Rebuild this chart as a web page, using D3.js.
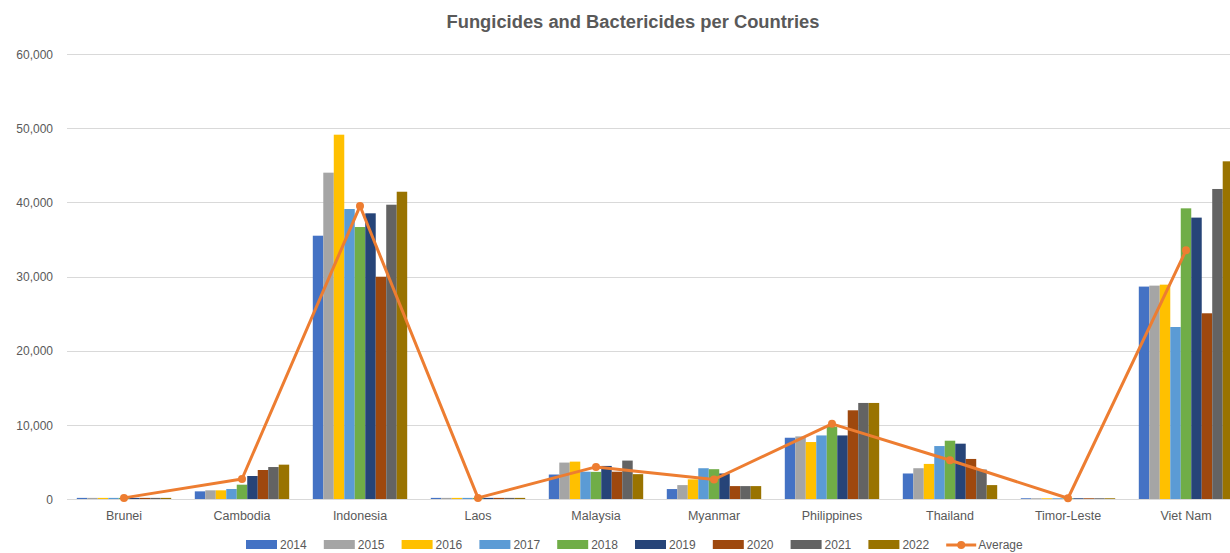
<!DOCTYPE html>
<html>
<head>
<meta charset="utf-8">
<script src="https://cdn.jsdelivr.net/npm/d3@7"></script>
<style>
  html, body { margin: 0; padding: 0; background: #fff; }
  svg { display: block; }
  text { font-family: "Liberation Sans", Arial, sans-serif; fill: #595959; }
</style>
</head>
<body>
<svg id="chart" width="1230" height="553"></svg>
<script>
// Fungicide and bactericide use by country, 2014–2022
const countries = ["Brunei", "Cambodia", "Indonesia", "Laos", "Malaysia", "Myanmar", "Philippines", "Thailand", "Timor-Leste", "Viet Nam"];
const years = ["2014", "2015", "2016", "2017", "2018", "2019", "2020", "2021", "2022"];

const v2014 = [150, 1030, 35500, 150, 3300, 1340, 8260, 3440, 100, 28640];
const v2015 = [150, 1170, 44000, 150, 4910, 1875, 8440, 4150, 100, 28770];
const v2016 = [150, 1170, 49120, 150, 5040, 2650, 7680, 4730, 100, 28900];
const v2017 = [150, 1350, 39100, 150, 3680, 4150, 8570, 7140, 100, 23190];
const v2018 = [150, 1930, 36670, 150, 3660, 4020, 9750, 7860, 100, 39190];
const v2019 = [150, 3100, 38520, 150, 4460, 3440, 8570, 7460, 100, 37940];
const v2020 = [150, 3910, 29970, 150, 3680, 1740, 11960, 5400, 100, 25040];
const v2021 = [150, 4310, 39680, 150, 5180, 1740, 12950, 3970, 100, 41800];
const v2022 = [150, 4630, 41430, 150, 3350, 1740, 12950, 1875, 100, 45530];
const average = [150, 2700, 39500, 150, 4330, 2630, 10130, 5220, 100, 33530];

const yTicks = [0, 10000, 20000, 30000, 40000, 50000, 60000];
const yearColors = ["#4472C4", "#A5A5A5", "#FFC000", "#5B9BD5", "#70AD47", "#264478", "#9E480E", "#636363", "#997300"];
const averageColor = "#ED7D31";

const seriesValues = [v2014, v2015, v2016, v2017, v2018, v2019, v2020, v2021, v2022];

const svg = d3.select("#chart");
const plot = { left: 65, right: 1245, top: 54, bottom: 499 };

const x = d3.scaleBand().domain(countries).range([plot.left, plot.right]).paddingInner(0.2).paddingOuter(0.1);
const xi = d3.scaleBand().domain(years).range([0, x.bandwidth()]);
const y = d3.scaleLinear().domain([0, 60000]).range([plot.bottom, plot.top]);

// Title
svg.append("text")
  .attr("x", 633).attr("y", 28)
  .attr("text-anchor", "middle")
  .style("font-size", "18px").style("font-weight", "bold")
  .attr("textLength", 373).attr("lengthAdjust", "spacingAndGlyphs")
  .text("Fungicides and Bactericides per Countries");

// Horizontal gridlines
svg.append("g").selectAll("line").data(yTicks.filter(d => d > 0)).join("line")
  .attr("x1", 67).attr("x2", 1230)
  .attr("y1", d => Math.round(y(d)) + 0.5).attr("y2", d => Math.round(y(d)) + 0.5)
  .attr("stroke", "#d9d9d9").attr("stroke-width", 1);

// Y axis labels
const yAxis = d3.axisLeft(y).tickValues(yTicks).tickSize(0).tickPadding(0)
  .tickFormat(d3.format(","));
svg.append("g").attr("transform", "translate(53,0)").call(yAxis)
  .call(g => g.select(".domain").remove())
  .call(g => g.selectAll("text").style("font-size", "12px").attr("fill", "#595959")
    .style("font-family", "'Liberation Sans', Arial, sans-serif").attr("dy", "0.35em"));

// Bars
const groups = svg.append("g").selectAll("g").data(countries).join("g")
  .attr("transform", d => `translate(${x(d)},0)`);
groups.selectAll("rect")
  .data((c, ci) => years.map((yr, si) => ({ yr, si, v: seriesValues[si][ci] })))
  .join("rect")
  .attr("x", d => xi(d.yr))
  .attr("width", xi.bandwidth())
  .attr("y", d => y(d.v))
  .attr("height", d => y(0) - y(d.v))
  .attr("fill", d => yearColors[d.si]);

// X axis line and category labels
svg.append("line")
  .attr("x1", 67).attr("x2", 1230).attr("y1", plot.bottom + 0.5).attr("y2", plot.bottom + 0.5)
  .attr("stroke", "#d9d9d9");
const xAxis = d3.axisBottom(x).tickSize(0).tickPadding(12);
svg.append("g").attr("transform", `translate(0,${plot.bottom})`).call(xAxis)
  .call(g => g.select(".domain").remove())
  .call(g => g.selectAll("text").style("font-size", "12.5px").attr("fill", "#595959")
    .style("font-family", "'Liberation Sans', Arial, sans-serif"));

// Average line with markers
const line = d3.line().x((d, i) => x(countries[i]) + x.bandwidth() / 2).y(d => y(d));
svg.append("path").datum(average)
  .attr("d", line).attr("fill", "none")
  .attr("stroke", averageColor).attr("stroke-width", 3).attr("stroke-linejoin", "round");
svg.append("g").selectAll("circle").data(average).join("circle")
  .attr("cx", (d, i) => x(countries[i]) + x.bandwidth() / 2)
  .attr("cy", d => y(d)).attr("r", 4)
  .attr("fill", averageColor);

// Legend
const legend = svg.append("g");
const legendStart = 246, legendStep = 77.8, legendY = 545;
years.forEach((yr, i) => {
  const lx = legendStart + i * legendStep;
  legend.append("rect").attr("x", lx).attr("y", legendY - 5).attr("width", 31).attr("height", 9)
    .attr("fill", yearColors[i]);
  legend.append("text").attr("x", lx + 34).attr("y", legendY).attr("dy", "0.35em")
    .style("font-size", "12px").text(yr);
});
const ax = legendStart + years.length * legendStep;
legend.append("line").attr("x1", ax).attr("x2", ax + 30).attr("y1", legendY).attr("y2", legendY)
  .attr("stroke", averageColor).attr("stroke-width", 3);
legend.append("circle").attr("cx", ax + 15).attr("cy", legendY).attr("r", 4).attr("fill", averageColor);
legend.append("text").attr("x", ax + 32).attr("y", legendY).attr("dy", "0.35em")
  .style("font-size", "12px").text("Average");
</script>
</body>
</html>
